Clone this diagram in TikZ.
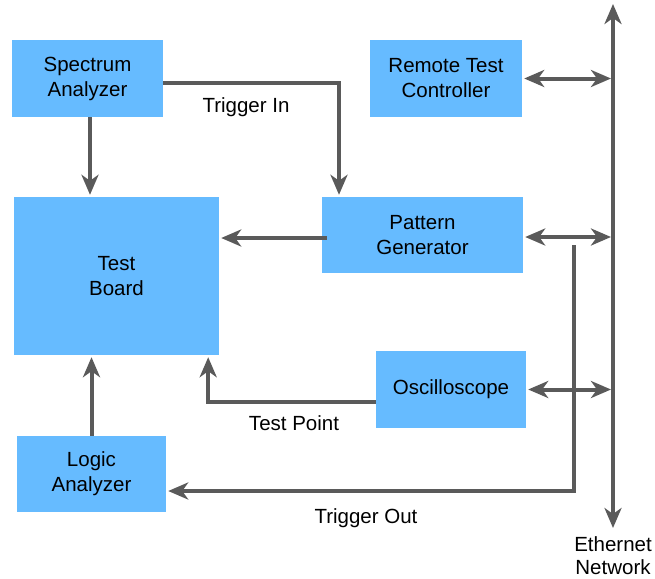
\documentclass[tikz,border=0pt]{standalone}
\usepackage{fontspec}
\setmainfont{Liberation Sans}
\usetikzlibrary{arrows.meta}
\definecolor{boxblue}{HTML}{66BBFF}
\definecolor{linegray}{HTML}{5A5A5A}
\begin{document}
\begin{tikzpicture}[x=1pt,y=-1pt,
        box/.style={fill=boxblue,inner sep=0pt,align=center,font=\fontsize{20.5}{25}\selectfont},
        lbl/.style={font=\fontsize{20.5}{25}\selectfont},
        link/.style={draw=linegray,line width=4pt,-{Stealth[length=20pt,width=17pt,inset=6pt]},shorten >=2pt},
        dlink/.style={link,{Stealth[length=20pt,width=17pt,inset=6pt]}-{Stealth[length=20pt,width=17pt,inset=6pt]},shorten <=2pt}]
    \useasboundingbox (0,0) rectangle (655,578);
            \node (sa) at (87.5,78.5) [box,minimum width=151pt,minimum height=77pt] {Spectrum\\Analyzer};
            \node (rtc) at (446,78.5) [box,minimum width=152pt,minimum height=77pt] {Remote Test\\Controller};
            \node (tb) at (116.5,276) [box,minimum width=205pt,minimum height=158pt] {Test\\Board};
            \node (pg) at (422.5,235) [box,minimum width=201pt,minimum height=76pt] {Pattern\\Generator};
            \node (osc) at (451,389.5) [box,minimum width=150pt,minimum height=77pt] {Oscilloscope};
            \node (la) at (91.5,474) [box,minimum width=149pt,minimum height=76pt] {Logic\\Analyzer};

            % ethernet bus
            \coordinate (bustop) at (613,4);
            \coordinate (busbot) at (613,528);
            \draw[dlink,shorten <=0pt,shorten >=0pt] (busbot) -- (bustop);
            \node (net) at (613,556) [lbl,align=center,font=\fontsize{20.5}{23}\selectfont] {Ethernet\\Network};

            \draw[dlink] (rtc.east) -- (rtc.east -| bustop);
            \draw[dlink] ([yshift=-2pt]pg.east) -- ([yshift=-2pt]pg.east -| bustop);
            \draw[dlink] (osc.east) -- (osc.east -| bustop);

            \draw[link] ([xshift=2.5pt]sa.south) -- ([xshift=2.5pt]sa.south |- tb.north);
            \draw[link] ([yshift=-4.5pt]sa.east) -| ([xshift=-83.5pt]pg.north);
            \draw[link] ([xshift=5pt,yshift=-3pt]pg.west) -- ([yshift=-3pt]pg.west -| tb.east);
            \draw[link] ([yshift=-12.5pt]osc.west) -| ([xshift=-11pt]tb.south east);
            \draw[link] (la.north) -- (la.north |- tb.south);

            \coordinate (tostart) at (574,245);
            \draw[link] (tostart) |- ([yshift=-17pt]la.east);

            \node (trin) at (246,107) [lbl] {Trigger In};
            \node (tp) at (294,423) [lbl] {Test Point};
            \node (trout) at (366,518) [lbl] {Trigger Out};
        \end{tikzpicture}
\end{document}
